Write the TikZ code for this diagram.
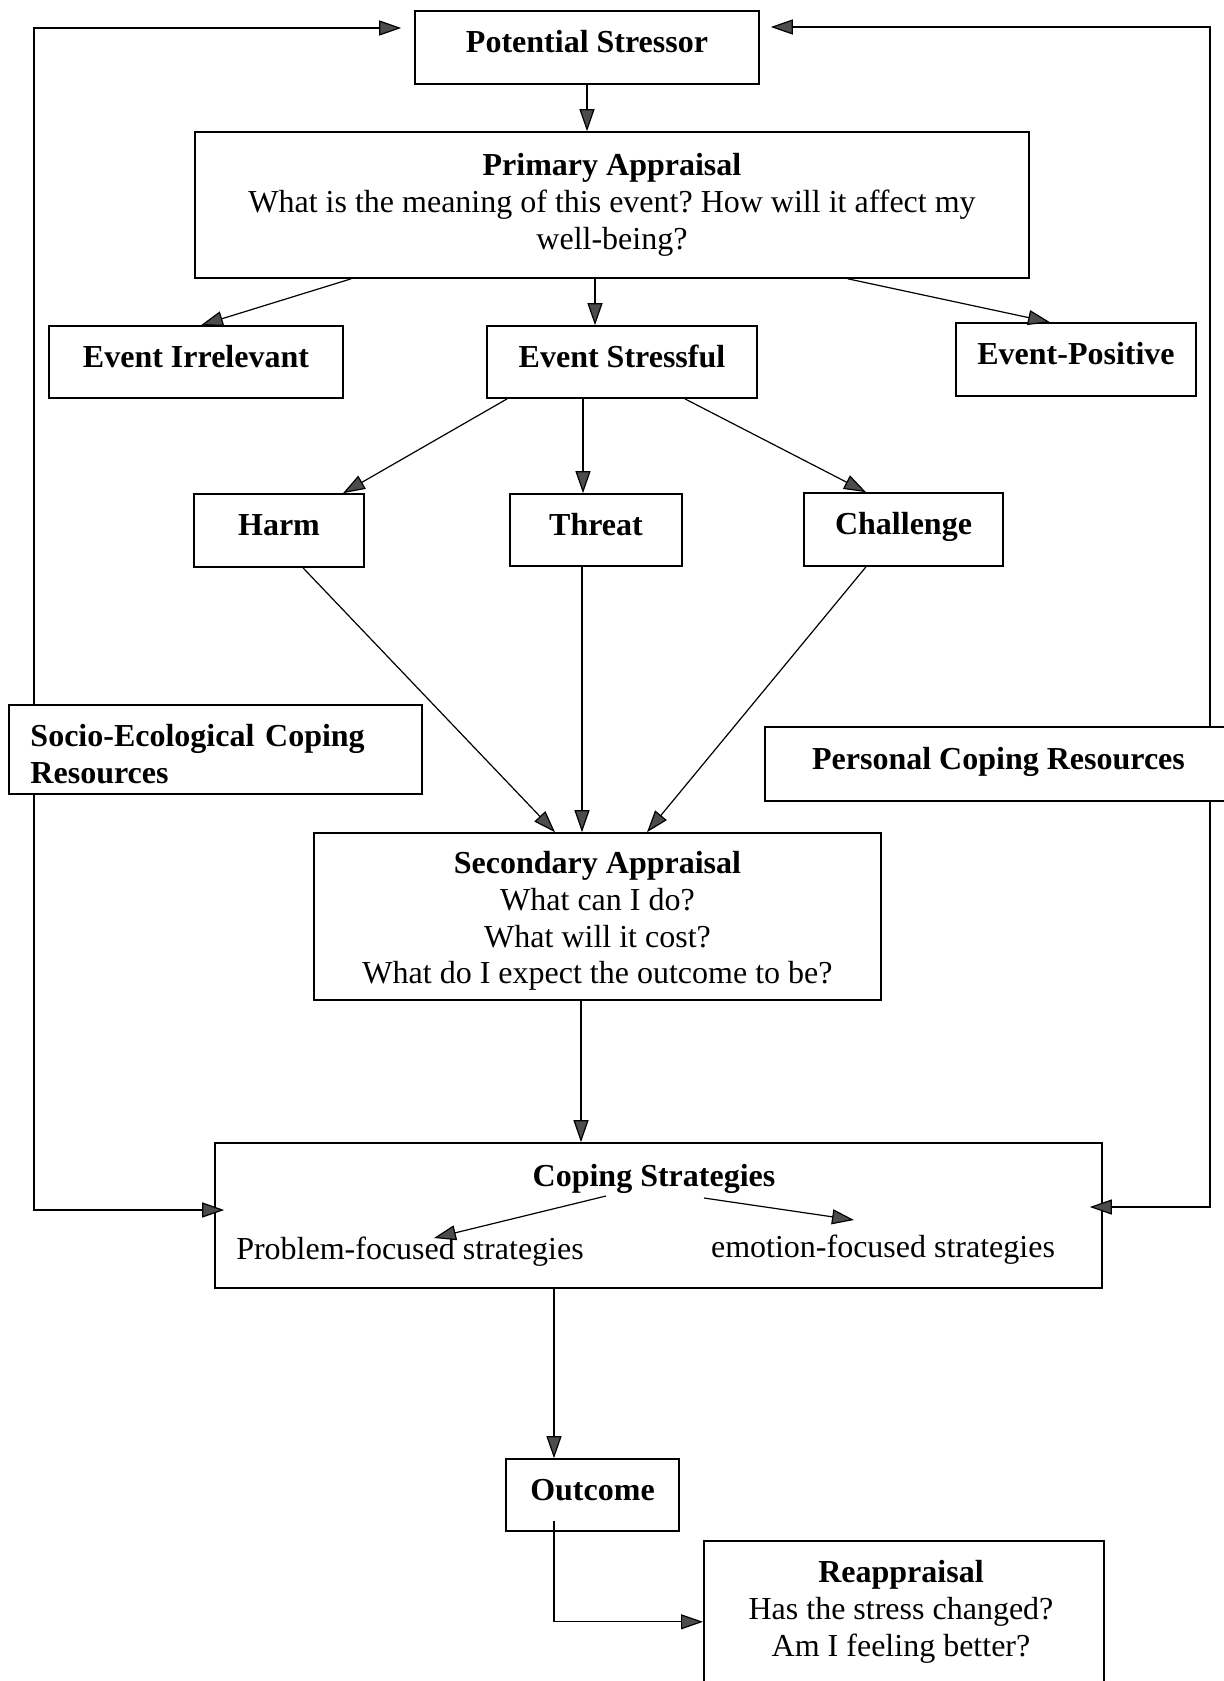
\documentclass[tikz,border=0pt]{standalone}
\usepackage{fontspec}
\setmainfont{Liberation Serif}
\usetikzlibrary{arrows.meta}
\frenchspacing
\newcommand{\firststrut}{\rule{0pt}{15.5pt}}
\begin{document}
\begin{tikzpicture}[x=0.5pt,y=-0.5pt,
  box/.style={draw=black, line width=0.8pt, align=center, inner sep=0pt,
    font=\fontsize{16}{18.4}\selectfont},
  one/.style={text height=11pt, text depth=6pt},
  lbl/.style={inner sep=0pt, align=center, font=\fontsize{16}{18.4}\selectfont},
  link/.style={draw=black, line width=0.6pt,
    -{Triangle[length=11pt,width=7.5pt,fill=black!70]}},
]
\useasboundingbox (0,0) rectangle (1223,1681);
\fill[white] (0,0) rectangle (1223,1681);

% --- boxes ---
\node[box, one, minimum width=172pt, minimum height=36.5pt] (stressor) at (587,47.5)
  {\textbf{Potential Stressor}};
\node[box, minimum width=417pt, minimum height=73pt] (primary) at (612,205)
  {\textbf{Primary Appraisal}\\What is the meaning of this event? How will it affect my\\well-being?};
\node[box, one, minimum width=147pt, minimum height=36pt] (irrelevant) at (196,362)
  {\textbf{Event Irrelevant}};
\node[box, one, minimum width=135pt, minimum height=36pt] (stressful) at (622,362)
  {\textbf{Event Stressful}};
\node[box, one, minimum width=120pt, minimum height=36.5pt] (positive) at (1076,359.5)
  {\textbf{Event-Positive}};
\node[box, one, minimum width=85pt, minimum height=36.5pt] (harm) at (279,530.5)
  {\textbf{Harm}};
\node[box, one, minimum width=86pt, minimum height=36pt] (threat) at (596,530)
  {\textbf{Threat}};
\node[box, one, minimum width=99.5pt, minimum height=36.5pt] (challenge) at (903.5,529.5)
  {\textbf{Challenge}};
\node[box, align=left, text width=185pt, minimum width=206.5pt, minimum height=44.5pt] (socio) at (215.5,749.5)
  {\firststrut\textbf{Socio-Ecological Coping}\\\textbf{Resources}};
\node[box, one, minimum width=233.5pt, minimum height=37pt] (personal) at (998.5,764)
  {\textbf{Personal Coping Resources}};
\node[box, minimum width=283.5pt, minimum height=83.5pt] (secondary) at (597.5,916.5)
  {\firststrut\textbf{Secondary Appraisal}\\What can I do?\\What will it cost?\\What do I expect the outcome to be?};
\node[box, minimum width=443.5pt, minimum height=72.5pt] (coping) at (658.5,1215.5) {};
\node[lbl, one] (copingtitle) at (654,1181) {\textbf{Coping Strategies}};
\node[lbl, one] (problem) at (410,1254) {Problem-focused strategies};
\node[lbl, one] (emotion) at (883,1252) {emotion-focused strategies};
\node[box, one, minimum width=86.5pt, minimum height=36pt] (outcome) at (592.5,1495)
  {\textbf{Outcome}};
\node[box, anchor=north west, minimum width=200pt, minimum height=85pt] (reapp) at (703,1540) {};
\node[lbl] (reapptext) at (901,1612)
  {\textbf{Reappraisal}\\Has the stress changed?\\Am I feeling better?};

% --- main flow ---
\draw[link] (stressor.south) -- (stressor.south |- primary.north);
\draw[link] ([xshift=78.5pt]primary.south west) -- ([xshift=2.5pt]irrelevant.north);
\draw[link] ([xshift=-13.5pt]stressful.north |- primary.south) -- ([xshift=-13.5pt]stressful.north);
\draw[link] ([xshift=-91pt]primary.south east) -- ([xshift=-13pt]positive.north);

\draw[link] ([xshift=10.5pt]stressful.south west) -- ([xshift=32pt]harm.north);
\draw[link] ([xshift=-6.5pt]threat.north |- stressful.south) -- ([xshift=-6.5pt]threat.north);
\draw[link] ([xshift=-36.5pt]stressful.south east) -- ([xshift=-18.75pt]challenge.north);

\draw[link] ([xshift=12pt]harm.south) -- ([xshift=-21.25pt]secondary.north);
\draw[link] ([xshift=-7pt]threat.south) -- ([xshift=-7pt]threat.south |- secondary.north);
\draw[link] ([xshift=-18.75pt]challenge.south) -- ([xshift=24.75pt]secondary.north);

\draw[link] ([xshift=-8.25pt]secondary.south) -- ([xshift=-8.25pt]secondary.south |- coping.north);
\draw[link] ([xshift=-19.25pt]outcome.north |- coping.south) -- ([xshift=-19.25pt]outcome.north);
\draw[link] ([xshift=-19.25pt,yshift=5.5pt]outcome.south) |- ([yshift=2pt]reapp.west);

% --- inside the coping box ---
\coordinate (pfrom) at (606,1196);
\coordinate (pto) at (434,1238);
\coordinate (efrom) at (704,1198);
\coordinate (eto) at (854,1220);
\draw[link] (pfrom) -- (pto);
\draw[link] (efrom) -- (eto);

% --- feedback loops through the coping resources ---
\coordinate (ltop) at (34,28);
\coordinate (lbot) at (34,1210);
\coordinate (rtop) at (1210,27);
\coordinate (rbot) at (1210,1207);
\draw[link, shorten >=6.5pt] (socio.north -| ltop) -- (ltop) -- (stressor.west |- ltop);
\draw[link, shorten >=-5pt] (socio.south -| lbot) -- (lbot) -- (coping.west |- lbot);
\draw[link, shorten >=5.5pt] (personal.north -| rtop) -- (rtop) -- (stressor.east |- rtop);
\draw[link, shorten >=-6.5pt] (personal.south -| rbot) -- (rbot) -- (coping.east |- rbot);
\end{tikzpicture}
\end{document}
